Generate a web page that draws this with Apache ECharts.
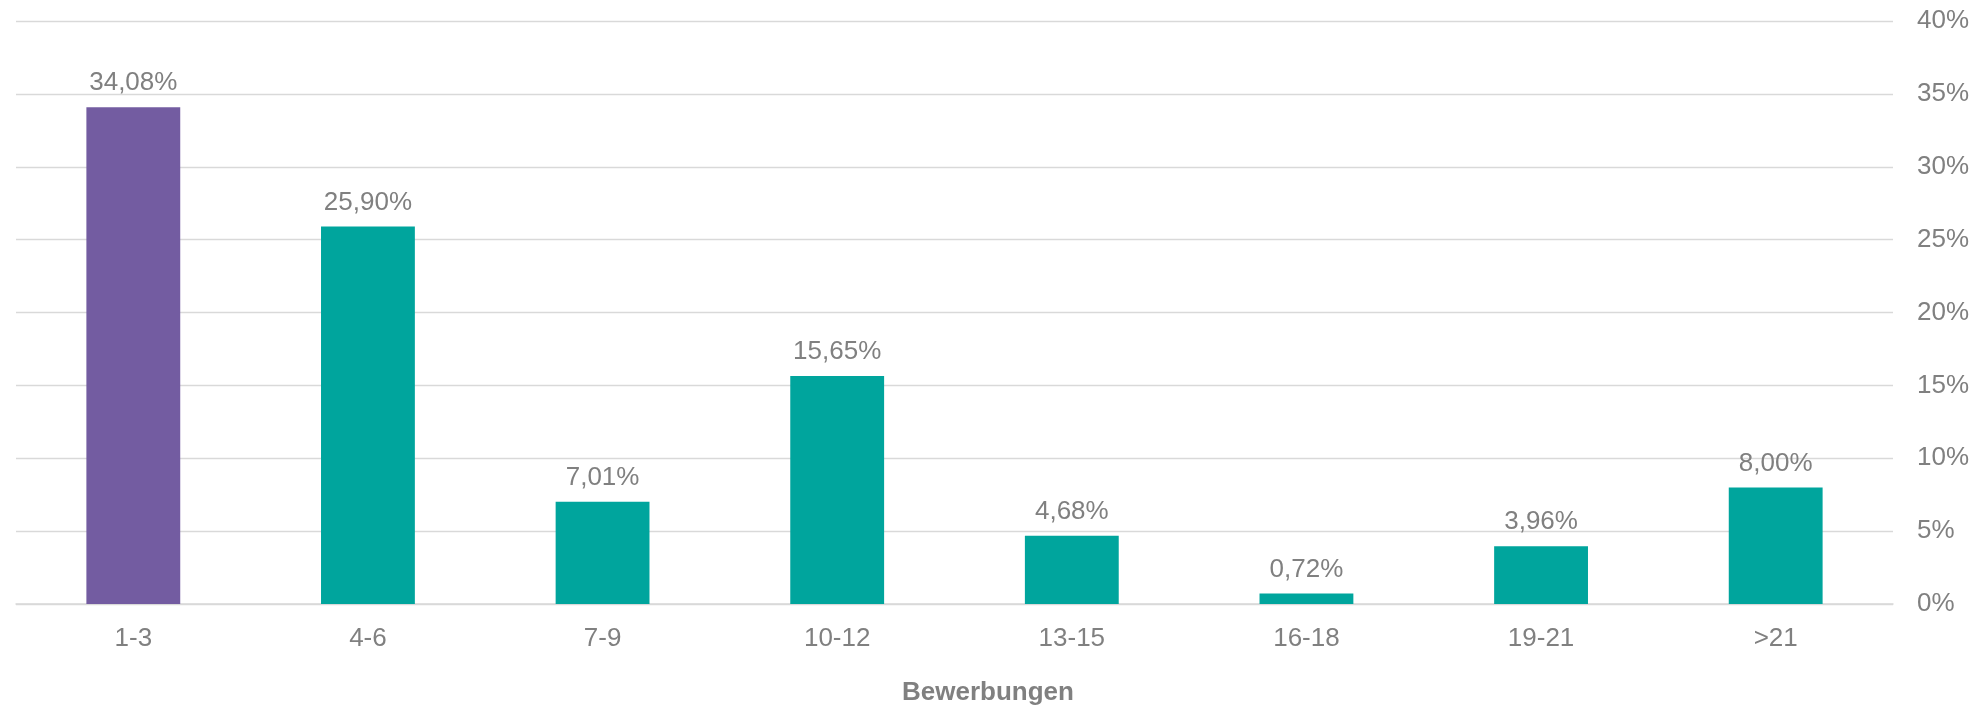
<!DOCTYPE html>
<html>
<head>
<meta charset="utf-8">
<script src="https://cdn.jsdelivr.net/npm/echarts@6/dist/echarts.min.js"></script>
<style>
    html, body { margin: 0; padding: 0; background: #fff; }
    #chart { width: 1987px; height: 706px; }
</style>
</head>
<body>
<div id="chart"></div>
<script>
    // Bewerbungen pro Person, Anteil in %
    var categories = ['1-3', '4-6', '7-9', '10-12', '13-15', '16-18', '19-21', '>21'];
    var shares = [34.08, 25.90, 7.01, 15.65, 4.68, 0.72, 3.96, 8.00];
    var highlightIndex = 0;

    var purple = '#735ca1';
    var teal = '#00a59d';
    var grey = '#808080';
    var font = 'Liberation Sans, Arial, sans-serif';

    var chart = echarts.init(document.getElementById('chart'));
    var option = {
        animation: false,
        grid: { left: 16, right: 94, top: 21, bottom: 102 },
        xAxis: {
            type: 'category',
            data: categories,
            axisLine: { lineStyle: { color: '#d9d9d9', width: 1.5 } },
            axisTick: { show: false },
            axisLabel: { color: grey, fontSize: 26, fontFamily: font, margin: 22 }
        },
        yAxis: {
            type: 'value',
            position: 'right',
            min: 0,
            max: 40,
            interval: 5,
            axisLine: { show: false },
            axisTick: { show: false },
            splitLine: { lineStyle: { color: '#d9d9d9', width: 1.3 } },
            axisLabel: {
                color: grey, fontSize: 26, fontFamily: font, margin: 24,
                formatter: '{value}%'
            }
        },
        graphic: [{
            type: 'text',
            left: 902,
            top: 680,
            style: {
                text: 'Bewerbungen',
                fill: grey,
                font: 'bold 26px ' + font
            }
        }],
        series: [{
            type: 'bar',
            barWidth: '40%',
            data: shares.map(function (v, i) {
                return { value: v, itemStyle: { color: i === highlightIndex ? purple : teal } };
            }),
            label: {
                show: true,
                position: 'top',
                distance: 11,
                color: grey,
                fontSize: 26,
                fontFamily: font,
                formatter: function (p) {
                    return p.value.toFixed(2).replace('.', ',') + '%';
                }
            }
        }]
    };
    chart.setOption(option);
    window.addEventListener('resize', function () {
        chart.resize();
    });
</script>
</body>
</html>
